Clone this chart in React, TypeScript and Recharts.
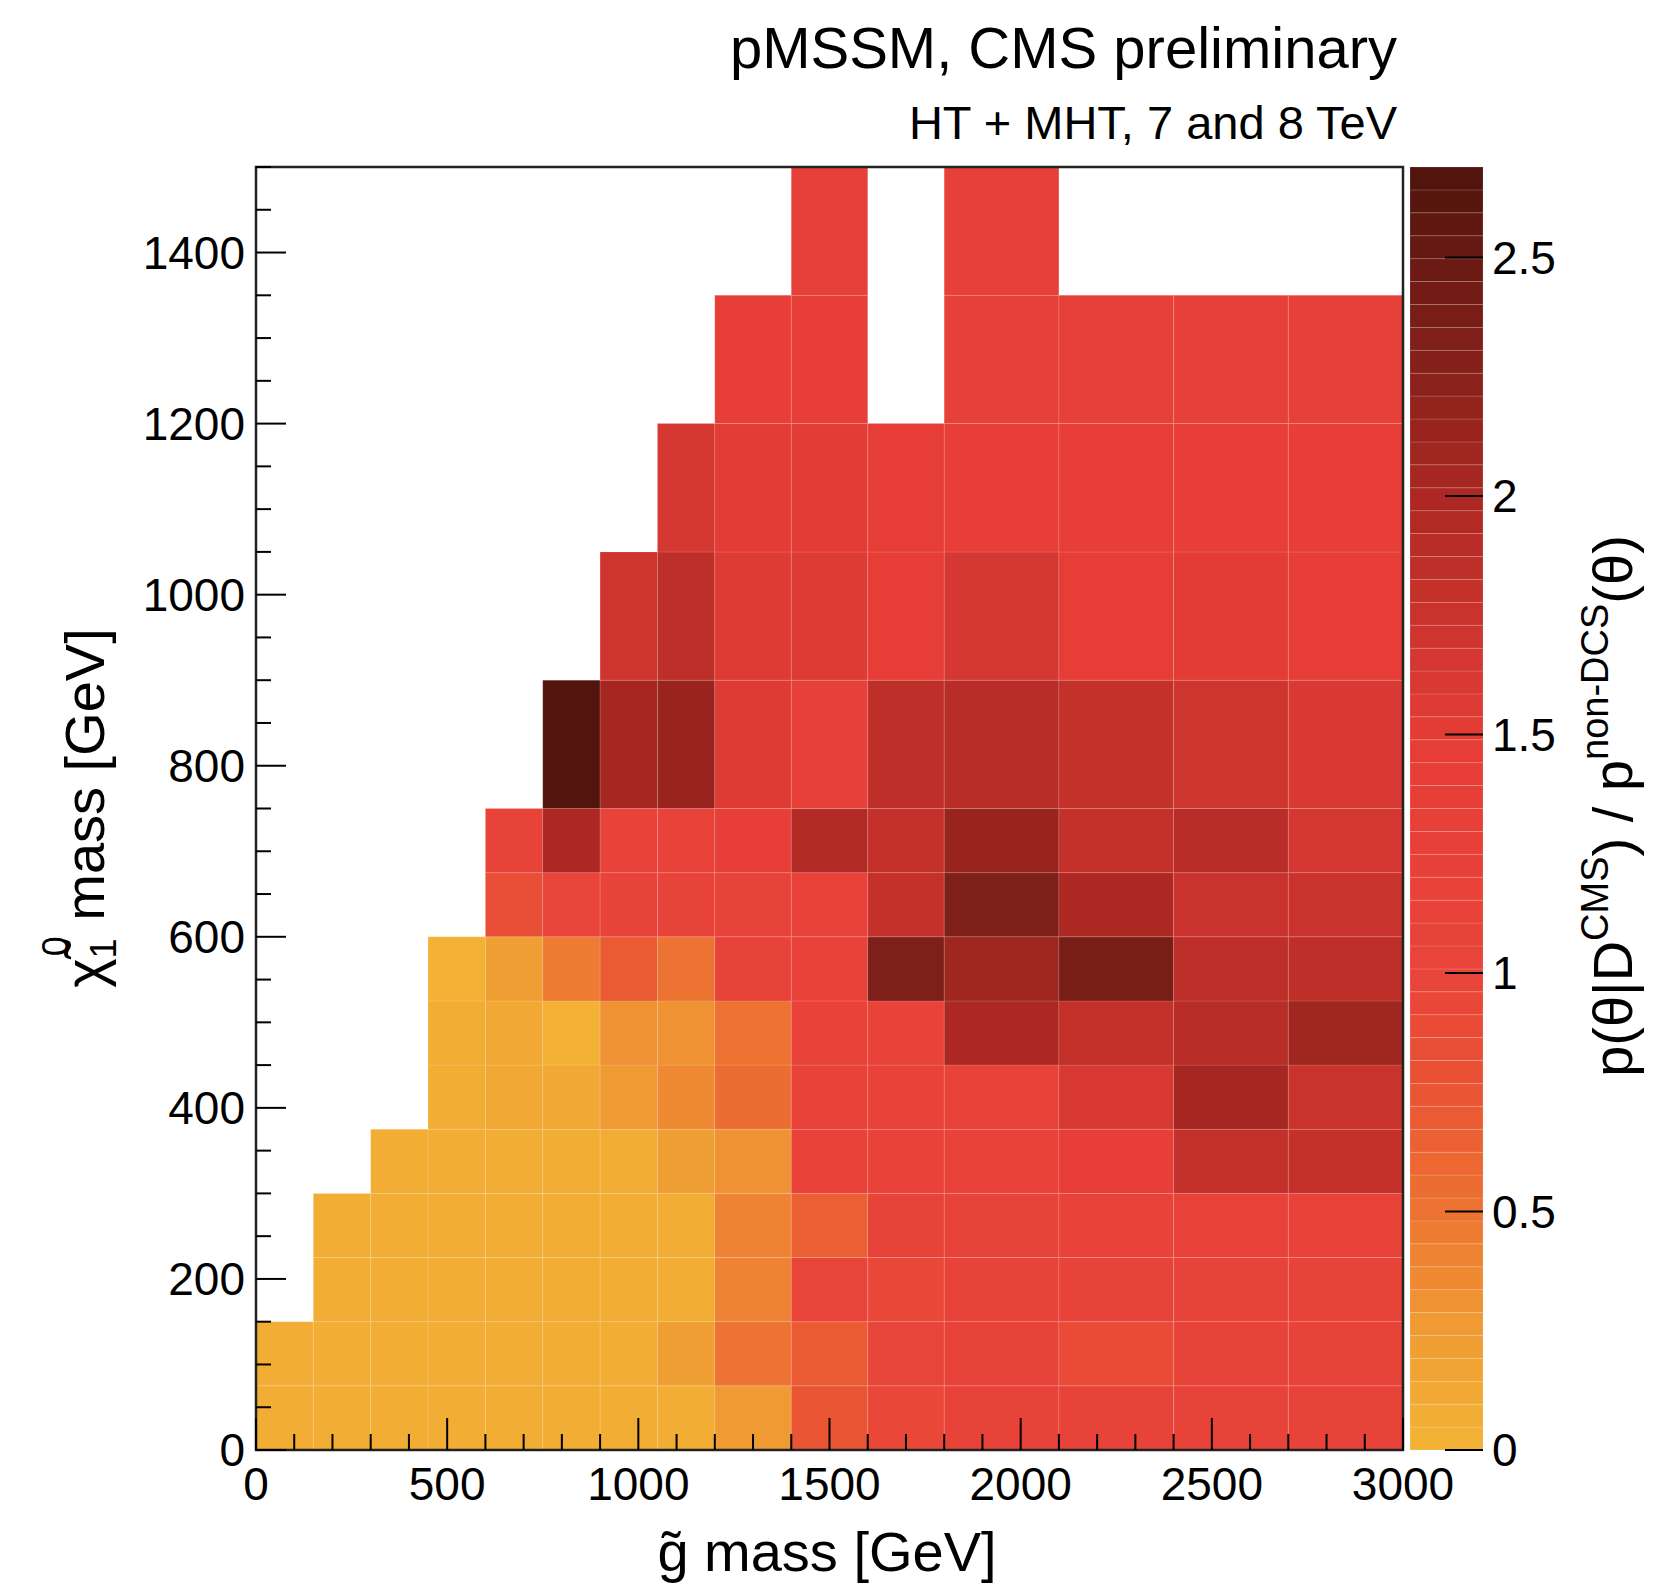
import React from 'react';
import { ScatterChart, Scatter, XAxis, YAxis, ReferenceArea } from 'recharts';

// ---- bin edges (GeV) ----
const xEdges = [0, 150, 300, 450, 600, 750, 900, 1050, 1200, 1400, 1600, 1800, 2100, 2400, 2700, 3000];
const yEdges = [0, 75, 150, 225, 300, 375, 450, 525, 600, 675, 750, 900, 1050, 1200, 1350, 1500];

// ---- cell values, one array per y-bin (bottom to top), null = empty ----
const row0 = [0.05, 0.05, 0.05, 0.05, 0.05, 0.05, 0.05, 0.06, 0.25, 0.75, 0.95, 1.1, 1.1, 1.1, 1.1];
const row1 = [0.05, 0.05, 0.05, 0.05, 0.05, 0.05, 0.05, 0.2, 0.5, 0.7, 1.0, 1.1, 0.9, 1.1, 1.1];
const row2 = [null, 0.05, 0.05, 0.05, 0.05, 0.05, 0.05, 0.08, 0.42, 1.05, 0.95, 1.1, 1.1, 1.1, 1.1];
const row3 = [null, 0.05, 0.05, 0.05, 0.05, 0.05, 0.05, 0.08, 0.42, 0.65, 1.1, 1.1, 1.15, 1.15, 1.15];
const row4 = [null, null, 0.05, 0.05, 0.05, 0.05, 0.05, 0.2, 0.33, 1.15, 1.15, 1.2, 1.4, 1.8, 1.8];
const row5 = [null, null, null, 0.05, 0.12, 0.12, 0.25, 0.35, 0.55, 1.15, 1.2, 1.2, 1.6, 2.05, 1.75];
const row6 = [null, null, null, 0.05, 0.12, 0.03, 0.3, 0.3, 0.5, 1.15, 1.2, 2.0, 1.8, 1.9, 2.1];
const row7 = [null, null, null, 0.03, 0.2, 0.47, 0.72, 0.5, 1.1, 1.2, 2.35, 2.1, 2.38, 1.85, 1.85];
const row8 = [null, null, null, null, 0.85, 1.05, 1.1, 1.1, 1.1, 1.15, 1.8, 2.35, 2.0, 1.75, 1.75];
const row9 = [null, null, null, null, 1.1, 2.0, 1.15, 1.2, 1.4, 1.95, 1.8, 2.15, 1.8, 1.9, 1.65];
const row10 = [null, null, null, null, null, 2.65, 2.05, 2.12, 1.55, 1.3, 1.85, 1.9, 1.78, 1.7, 1.6];
const row11 = [null, null, null, null, null, null, 1.72, 1.85, 1.55, 1.55, 1.45, 1.65, 1.45, 1.5, 1.45];
const row12 = [null, null, null, null, null, null, null, 1.65, 1.5, 1.5, 1.45, 1.4, 1.4, 1.35, 1.35];
const row13 = [null, null, null, null, null, null, null, null, 1.35, 1.35, null, 1.3, 1.3, 1.3, 1.3];
const row14 = [null, null, null, null, null, null, null, null, null, 1.3, null, 1.3, null, null, null];
const rows = [row0, row1, row2, row3, row4, row5, row6, row7, row8, row9, row10, row11, row12, row13, row14];

// ---- ticks ----
const xTicks = [0, 500, 1000, 1500, 2000, 2500, 3000];
const xMinorStep = 100;
const yTicks = [0, 200, 400, 600, 800, 1000, 1200, 1400];
const yMinorStep = 50;
const zTicks = [0, 0.5, 1, 1.5, 2, 2.5];
const zMax = 2.69;
const nBands = 56;

// ---- palette stops ----
const paletteStops: [number, string][] = [
  [0.0, '#F3B435'],
  [0.25, '#F09C34'],
  [0.5, '#ED7432'],
  [0.75, '#EA5433'],
  [1.0, '#E8443A'],
  [1.45, '#E73E37'],
  [1.65, '#D63832'],
  [2.0, '#AC2822'],
  [2.3, '#83201A'],
  [2.69, '#4E140C'],
];

const hex = (h: string) => [parseInt(h.slice(1, 3), 16), parseInt(h.slice(3, 5), 16), parseInt(h.slice(5, 7), 16)];
const interp = (v: number) => {
  for (let i = 0; i < paletteStops.length - 1; i++) {
    const [a, ca] = paletteStops[i];
    const [b, cb] = paletteStops[i + 1];
    if (v <= b || i === paletteStops.length - 2) {
      const t = Math.max(0, Math.min(1, (v - a) / (b - a)));
      const A = hex(ca), B = hex(cb);
      const c = A.map((x, k) => Math.round(x + (B[k] - x) * t));
      return `rgb(${c[0]},${c[1]},${c[2]})`;
    }
  }
  return paletteStops[0][1];
};
const bandW = zMax / nBands;
const colorFor = (v: number) => {
  const idx = Math.min(nBands - 1, Math.max(0, Math.floor(v / bandW)));
  return interp((idx + 0.5) * bandW);
};

const cells: { x1: number; x2: number; y1: number; y2: number; v: number }[] = [];
rows.forEach((row, r) =>
  row.forEach((v, c) => {
    if (v !== null && v !== undefined) cells.push({ x1: xEdges[c], x2: xEdges[c + 1], y1: yEdges[r], y2: yEdges[r + 1], v });
  })
);
const centers = cells.map((c) => ({ x: (c.x1 + c.x2) / 2, y: (c.y1 + c.y2) / 2 }));

const bands = Array.from({ length: nBands }, (_, i) => ({ lo: i * bandW, hi: (i + 1) * bandW }));

const range = (lo: number, hi: number, step: number) => {
  const out: number[] = [];
  for (let v = lo; v <= hi + 1e-9; v += step) out.push(Math.round(v * 1000) / 1000);
  return out;
};
const xAllTicks = range(0, 3000, xMinorStep);
const yAllTicks = range(0, 1500, yMinorStep);

const FONT = '"Liberation Sans", Arial, Helvetica, sans-serif';
const TICK_FS = 46;

const XTick = (props: any) => {
  const { x, y, payload } = props;
  const v = payload.value;
  const major = xTicks.includes(v);
  const len = major ? 32 : 16;
  return (
    <g>
      <line x1={x} x2={x} y1={y} y2={y - len} stroke="#000" strokeWidth={2} />
      {major && (
        <text x={x} y={y + 50} textAnchor="middle" fontSize={TICK_FS} fontFamily={FONT} fill="#000">
          {v}
        </text>
      )}
    </g>
  );
};

const YTick = (props: any) => {
  const { x, y, payload } = props;
  const v = payload.value;
  const major = yTicks.includes(v);
  const len = major ? 30 : 15;
  return (
    <g>
      <line x1={x} x2={x + len} y1={y} y2={y} stroke="#000" strokeWidth={2} />
      {major && (
        <text x={x - 11} y={y} textAnchor="end" dominantBaseline="central" fontSize={TICK_FS} fontFamily={FONT} fill="#000">
          {v}
        </text>
      )}
    </g>
  );
};

const ZTick = (props: any) => {
  const { x, y, payload } = props;
  const v = payload.value;
  return (
    <g>
      <line x1={x - 38} x2={x} y1={y} y2={y} stroke="#000" strokeWidth={2} />
      <text x={x + 9} y={y} textAnchor="start" dominantBaseline="central" fontSize={TICK_FS} fontFamily={FONT} fill="#000">
        {v}
      </text>
    </g>
  );
};

export default function App() {
  return (
    <div style={{ position: 'absolute', left: 0, top: 0, width: 1659, height: 1596, background: '#fff' }}>
      <div style={{ position: 'absolute', left: 0, top: 0 }}>
        <ScatterChart width={1659} height={1596} margin={{ top: 167, right: 256, bottom: 86, left: 196 }}>
          <XAxis
            type="number"
            dataKey="x"
            domain={[0, 3000]}
            ticks={xAllTicks}
            interval={0}
            height={60}
            tickSize={0}
            tickMargin={0}
            tickLine={false}
            axisLine={false}
            tick={<XTick />}
            allowDataOverflow
          />
          <YAxis
            type="number"
            dataKey="y"
            domain={[0, 1500]}
            ticks={yAllTicks}
            interval={0}
            width={60}
            tickSize={0}
            tickMargin={0}
            tickLine={false}
            axisLine={false}
            tick={<YTick />}
            allowDataOverflow
          />
          {cells.map((c, i) => (
            <ReferenceArea
              key={i}
              x1={c.x1}
              x2={c.x2}
              y1={c.y1}
              y2={c.y2}
              fill={colorFor(c.v)}
              fillOpacity={1}
              stroke="rgba(255,255,255,0.12)"
              strokeWidth={1}
            />
          ))}
          <ReferenceArea x1={0} x2={3000} y1={0} y2={1500} fill="none" fillOpacity={0} stroke="#222" strokeWidth={2.5} />
          <Scatter data={centers} isAnimationActive={false} shape={() => <g />} />
        </ScatterChart>
      </div>
      <div style={{ position: 'absolute', left: 1330, top: 0 }}>
        <ScatterChart width={329} height={1596} margin={{ top: 167, right: 116, bottom: 146, left: 80 }}>
          <XAxis type="number" dataKey="x" domain={[0, 1]} hide />
          <YAxis
            type="number"
            dataKey="y"
            orientation="right"
            domain={[0, zMax]}
            ticks={zTicks}
            interval={0}
            width={60}
            tickSize={0}
            tickMargin={0}
            tickLine={false}
            axisLine={false}
            tick={<ZTick />}
            allowDataOverflow
          />
          {bands.map((b, i) => (
            <ReferenceArea
              key={i}
              x1={0}
              x2={1}
              y1={b.lo}
              y2={b.hi}
              fill={interp((b.lo + b.hi) / 2)}
              fillOpacity={1}
              stroke="rgba(255,255,255,0.18)"
              strokeWidth={0.8}
            />
          ))}
          <Scatter data={[{ x: 0.5, y: 0 }]} isAnimationActive={false} shape={() => <g />} />
        </ScatterChart>
      </div>
      <svg width={1659} height={1596} style={{ position: 'absolute', left: 0, top: 0, pointerEvents: 'none' }}>
        <text x={1397} y={68} textAnchor="end" fontSize={58} fontFamily={FONT} fill="#000">
          pMSSM, CMS preliminary
        </text>
        <text x={1397} y={139} textAnchor="end" fontSize={47} fontFamily={FONT} fill="#000">
          HT + MHT, 7 and 8 TeV
        </text>
        <text x={827} y={1571} textAnchor="middle" fontSize={56} fontFamily={FONT} fill="#000">
          {'g\u0303 mass [GeV]'}
        </text>
        <text
          x={104}
          y={808}
          textAnchor="middle"
          fontSize={56}
          fontFamily={FONT}
          fill="#000"
          transform="rotate(-90, 104, 808)"
        >
          {'\u03c7\u0303'}
          <tspan fontSize={36} dy={12}>1</tspan>
          <tspan fontSize={36} dx={-18} dy={-48}>0</tspan>
          <tspan dy={36}>{' mass [GeV]'}</tspan>
        </text>
        <text
          x={1632}
          y={806}
          textAnchor="middle"
          fontSize={56}
          fontFamily={FONT}
          fill="#000"
          transform="rotate(-90, 1632, 806)"
        >
          {'p(\u03b8|D'}
          <tspan fontSize={38} dy={-24}>CMS</tspan>
          <tspan dy={24}>{') / p'}</tspan>
          <tspan fontSize={38} dy={-24}>non-DCS</tspan>
          <tspan dy={24}>{'(\u03b8)'}</tspan>
        </text>
      </svg>
    </div>
  );
}
